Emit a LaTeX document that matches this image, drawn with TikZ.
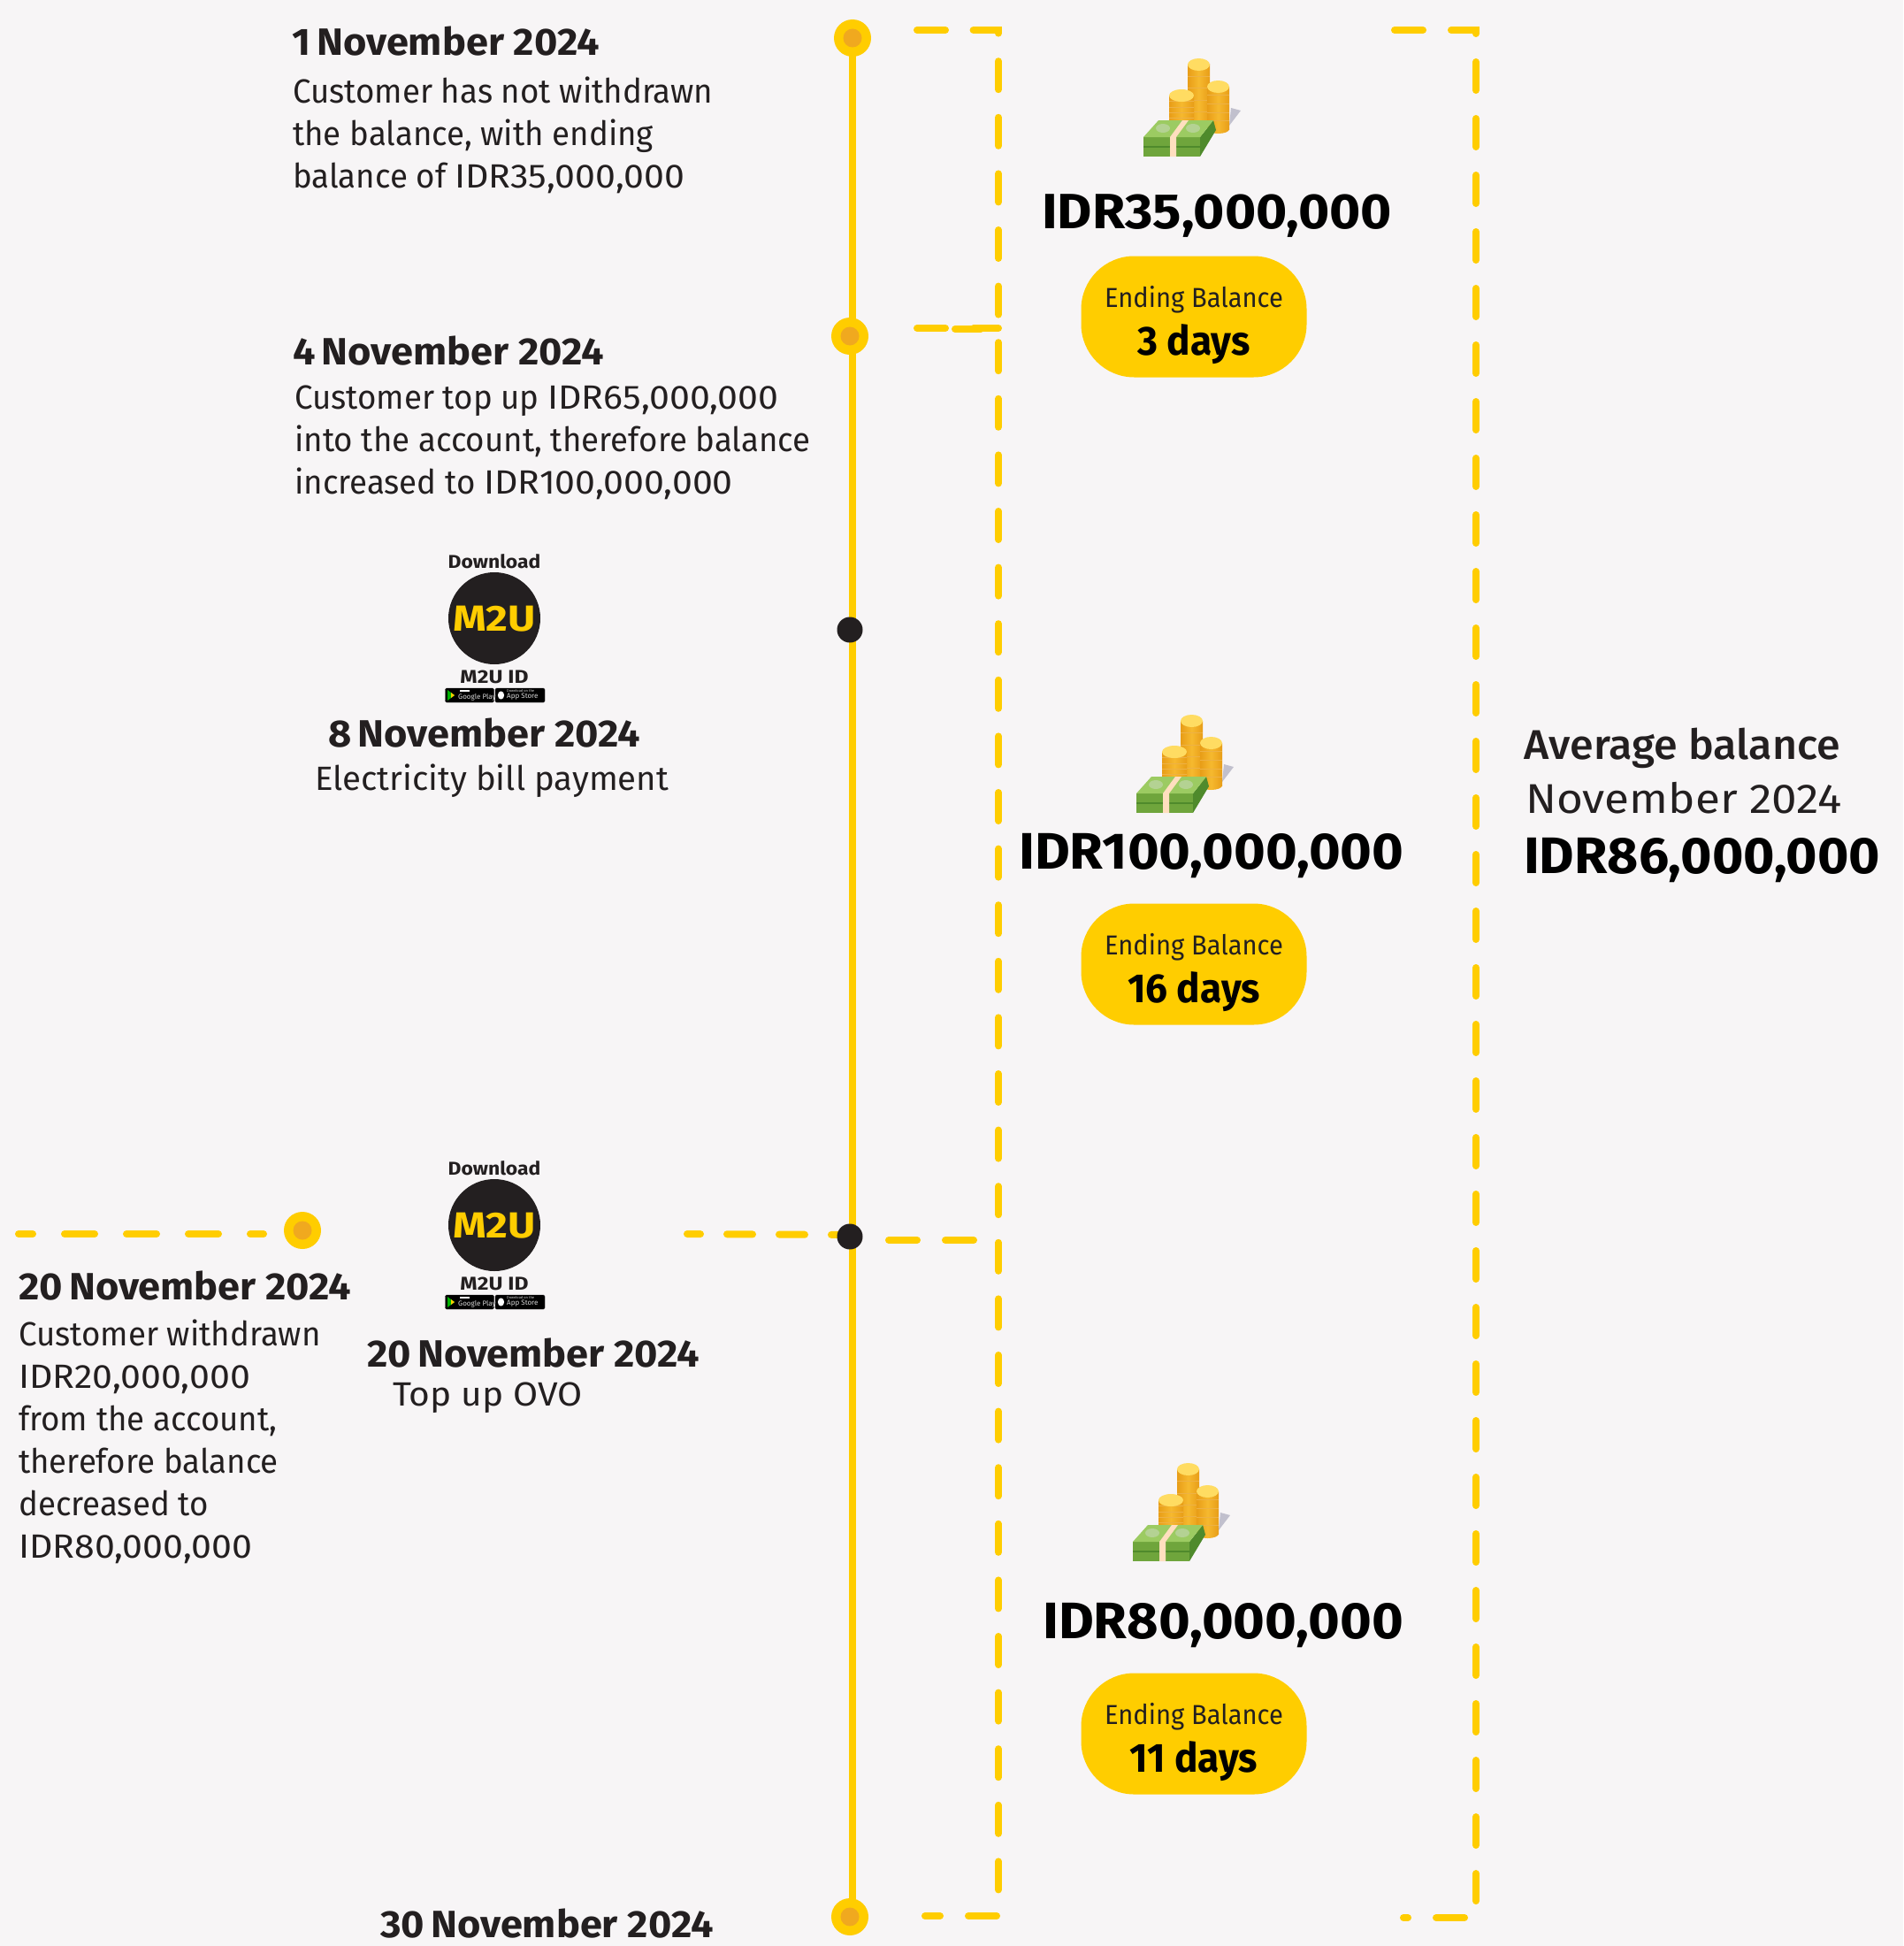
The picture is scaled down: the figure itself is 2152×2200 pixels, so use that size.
\documentclass[tikz,border=0pt]{standalone}
\usepackage{fontspec}
\setmainfont{Fira Sans}
\newfontfamily\bodyf[FakeStretch=0.965]{Fira Sans}
\newfontfamily\numf[FakeStretch=1.08]{Fira Sans}
\newfontfamily\elecf[FakeStretch=1.01]{Fira Sans}
\newfontfamily\ovof[FakeStretch=1.07]{Fira Sans}
\newfontfamily\datef[FakeStretch=1.05]{Fira Sans}
\newfontfamily\amtf[FakeStretch=1.077]{Fira Sans}
\newfontfamily\amtg[FakeStretch=1.055]{Fira Sans}
\newfontfamily\amth[FakeStretch=1.045]{Fira Sans}
\newfontfamily\pillf[FakeStretch=0.94]{Fira Sans}
\newfontfamily\dayf[FakeStretch=0.96]{Fira Sans}
\newfontfamily\avgf[FakeStretch=1.03]{Fira Sans Medium}
\newfontfamily\novf[FakeStretch=1.09]{Fira Sans}
\newfontfamily\logof[FakeStretch=1.17]{Fira Sans}
\newfontfamily\dlf[FakeStretch=1.09]{Fira Sans}
\newfontfamily\idf[FakeStretch=1.17]{Fira Sans}
\newcommand{\nm}[1]{{\numf #1}}
\definecolor{bgc}{HTML}{F7F5F6}
\definecolor{yel}{HTML}{FFCD00}
\definecolor{org}{HTML}{F0A91F}
\definecolor{ink}{HTML}{231F20}
\definecolor{gr1}{HTML}{6FA53C}
\definecolor{gr2}{HTML}{4F8A2C}
\definecolor{gr3}{HTML}{9CCB62}
\definecolor{co1}{HTML}{F6B92F}
\definecolor{co2}{HTML}{FFDC62}
\definecolor{co3}{HTML}{E89D17}
\tikzset{
 dashy/.style={yel,line width=8pt,line cap=round,dash pattern=on 32pt off 32pt},
 spine/.style={yel,line width=8pt},
 bigdot/.style={circle,fill=yel,minimum size=42pt,inner sep=0pt},
 innerdot/.style={circle,fill=org,minimum size=21pt,inner sep=0pt},
 blackdot/.style={circle,fill=ink,minimum size=29pt,inner sep=0pt},
 datehead/.style={anchor=base west,text=ink,font=\fontsize{43}{43}\datef\bfseries,inner sep=0pt},
 body/.style={anchor=base west,text=ink,font=\fontsize{38}{48}\bodyf,align=left,inner sep=0pt},
 amount/.style={anchor=base west,text=black,font=\fontsize{56}{56}\amtf\bfseries,inner sep=0pt},
 amountb/.style={anchor=base west,text=black,font=\fontsize{58}{58}\amtg\bfseries,inner sep=0pt},
 amountc/.style={anchor=base west,text=black,font=\fontsize{58}{58}\amth\bfseries,inner sep=0pt},
 pill/.style={fill=yel,rounded corners=60pt,minimum width=255pt,minimum height=137pt,inner sep=0pt},
 pilltop/.style={text=ink,font=\fontsize{31}{31}\pillf,inner sep=0pt},
 pillbot/.style={text=black,font=\fontsize{46}{46}\dayf\bfseries,inner sep=0pt},
 logocircle/.style={circle,fill=ink,minimum size=104pt,inner sep=0pt},
 logotext/.style={text=yel,font=\fontsize{41}{41}\logof\bfseries,inner sep=0pt},
 dltext/.style={text=ink,font=\fontsize{21}{21}\dlf\bfseries,inner sep=0pt},
 idtext/.style={text=ink,font=\fontsize{21}{21}\idf\bfseries,inner sep=0pt},
 badge/.style={fill=black,draw=ink,rounded corners=1.5pt,minimum height=16pt,inner sep=0pt},
 badgetext/.style={text=white!85!black,font=\fontsize{8}{8}\selectfont,inner sep=0pt},
 badgetiny/.style={text=white!85!black,font=\fontsize{4}{4}\selectfont,inner sep=0pt},
}
\newcommand{\coinstack}[4]{% x, top y, width, bottom y
 \path[left color=co3,right color=co3,middle color=co1] (#1,#2) rectangle (#1+#3,#4);
 \path[left color=co3,right color=co3,middle color=co1] (#1+#3/2,#4) ellipse ({#3/2} and 5);
 \foreach \q in {0.2,0.4,0.6,0.8}{\draw[co3!80!white,line width=.6pt] (#1,{#2+(#4-#2)*\q}) -- (#1+#3,{#2+(#4-#2)*\q});}
 \fill[co2] (#1+#3/2,#2) ellipse ({#3/2} and 7);
}
\newcommand{\moneyicon}[2]{%
 \begin{scope}[shift={(#1,#2)}]
  \fill[black!25!blue!8!bgc!85!black] (111,72) -- (122,75) -- (109,92) -- cycle;
  \coinstack{62}{23}{25}{90}
  \coinstack{84}{48}{25}{96}
  \coinstack{41}{58}{28}{90}
  \fill[gr2] (76,105) -- (91,86) -- (94,97) -- (76,127) -- cycle;
  \fill[gr1] (12,105) -- (76,105) -- (76,127) -- (12,127) -- cycle;
  \fill[gr3] (12,105) -- (29,86) -- (91,86) -- (76,105) -- cycle;
  \fill[gr1!60!gr3!60!white] (34,95) ellipse (8 and 5);
  \fill[gr1!60!gr3!60!white] (68,95) ellipse (8 and 5);
  \draw[gr2,line width=1.2pt] (12,116) -- (76,116);
  \fill[white!75!orange] (42,105) -- (56,86) -- (63,86) -- (49,105) -- (49,127) -- (42,127) -- cycle;
 \end{scope}}
\newcommand{\logoblock}[3]{% name, cx, cy of circle
 \node[logocircle] (#1c) at (#2,#3) {};
 \node[logotext] (#1t) at (#2,#3+1) {M2U};
 \node[dltext] (#1d) at (#2,#3-64) {Download};
 \node[idtext] (#1i) at (#2,#3+66) {M2U ID};
 \node[badge,minimum width=55pt] (#1g) at (#2-28,#3+87) {};
 \node[badge,minimum width=56pt] (#1a) at (#2+29,#3+87) {};
 \fill[green!70!black] (#2-53,#3+81) -- (#2-45,#3+87) -- (#2-53,#3+93) -- cycle;
 \fill[yel] (#2-49,#3+84) -- (#2-45,#3+87) -- (#2-49,#3+90) -- cycle;
 \fill[white] (#2-39,#3+80.5) rectangle (#2-28,#3+82.5);
 \node[badgetext,anchor=west] (#1gt) at (#2-41,#3+89) {Google Play};
 \fill[white] (#2+7.5,#3+87) ellipse (3.6 and 4.6);
 \node[badgetiny,anchor=west] (#1at0) at (#2+14,#3+82.5) {Download on the};
 \node[badgetext,anchor=west] (#1at) at (#2+14,#3+89) {App Store};
}
\begin{document}
\begin{tikzpicture}[x=1pt,y=-1pt]
\fill[bgc] (0,0) rectangle (2152,2200);
\useasboundingbox (0,0) rectangle (2152,2200);

% timeline
\coordinate (topL) at (964,43);
\coordinate (botL) at (964,2167);
\draw[spine] (topL) -- (botL);
\node[bigdot] (t1) at (964,43) {};
\node[innerdot] (t1i) at (t1) {};
\node[bigdot] (t4) at (961,380) {};
\node[innerdot] (t4i) at (t4) {};
\node[blackdot] (t8) at (961,712) {};
\node[bigdot] (t30) at (961,2167) {};
\node[innerdot] (t30i) at (t30) {};

% bracket 1
\coordinate (b1a) at (1037,34);
\coordinate (b1b) at (1129,34);
\coordinate (b1c) at (1129,2141);
\coordinate (b1e) at (1127,2166);
\coordinate (b1d) at (1046,2166);
\draw[dashy,dash pattern=on 32pt off 31.6pt] (b1a) -- (b1b) -- (b1c);
\draw[dashy] (b1e) -- (b1d);
\coordinate (m1a) at (1037,371);
\coordinate (m1b) at (1129,371);
\coordinate (m1c) at (1080,372);
\coordinate (m1d) at (1109,372);
\draw[dashy] (m1a) -- (m1b);
\draw[dashy] (m1c) -- (m1d);
\coordinate (m2a) at (1005,1402);
\coordinate (m2b) at (1101,1402);
\draw[dashy] (m2a) -- (m2b);

% bracket 2
\coordinate (b2a) at (1577,34);
\coordinate (b2b) at (1669,34);
\coordinate (b2c) at (1669,2149);
\coordinate (b2e) at (1656,2168);
\coordinate (b2d) at (1587,2168);
\draw[dashy] (b2a) -- (b2b) -- (b2c);
\draw[dashy] (b2e) -- (b2d);

% withdraw line
\node[bigdot] (w) at (342,1391) {};
\node[innerdot] (wi) at (w) {};
\coordinate (wa) at (21,1395);
\coordinate (wb) at (298,1395);
\draw[dashy,dash pattern=on 34pt off 36pt,dash phase=18pt] (wa) -- (wb);
\coordinate (ta) at (777,1395);
\coordinate (tb) at (961,1396);
\draw[dashy,dash pattern=on 29pt off 30pt,dash phase=14pt] (ta) -- (tb);
\node[blackdot] (t20) at (961,1398) {};

% left texts
\node[datehead] (d1) at (330,63) {1\,November 2024};
\node[body] (b1) at (331,212) {Customer has not withdrawn\\the balance, with ending\\balance of \nm{IDR35,000,000}};
\node[datehead] (d4) at (331,412) {4\,November 2024};
\node[body] (b4) at (333,558) {Customer top up \nm{IDR65,000,000}\\into the account, therefore balance\\increased to \nm{IDR100,000,000}};
\logoblock{la}{559}{699}
\node[datehead] (d8) at (371,844) {8\,November 2024};
\node[body,font=\fontsize{38}{48}\elecf] (b8) at (356,893) {Electricity bill payment};
\logoblock{lb}{559}{1385}
\node[datehead] (d20b) at (415,1545) {20\,November 2024};
\node[body,font=\fontsize{38}{48}\ovof] (b20b) at (444,1589) {Top up OVO};
\node[datehead] (d20a) at (21,1469) {20\,November 2024};
\node[body] (b20a) at (21,1761) {Customer withdrawn\\\nm{IDR20,000,000}\\from the account,\\therefore balance\\decreased to\\\nm{IDR80,000,000}};
\node[datehead] (d30) at (430,2190) {30\,November 2024};

% right column
\moneyicon{1281}{50}
\node[amount] (a1) at (1178,258) {IDR35,000,000};
\node[pill] (p1) at (1350,358) {};
\node[pilltop] (p1a) at (1350,339) {Ending Balance};
\node[pillbot] (p1b) at (1350,389) {3 days};
\moneyicon{1273}{792}
\node[amountb] (a2) at (1152,982) {IDR100,000,000};
\node[pill] (p2) at (1350,1090) {};
\node[pilltop] (p2a) at (1350,1071) {Ending Balance};
\node[pillbot] (p2b) at (1350,1121) {16 days};
\moneyicon{1269}{1638}
\node[amountb] (a3) at (1179,1852) {IDR80,000,000};
\node[pill] (p3) at (1350,1960) {};
\node[pilltop] (p3a) at (1350,1941) {Ending Balance};
\node[pillbot] (p3b) at (1350,1991) {11 days};

% average
\node[anchor=base west,text=ink,font=\fontsize{47}{47}\avgf,inner sep=0pt] (av1) at (1723,858) {Average balance};
\node[anchor=base west,text=ink,font=\fontsize{47}{47}\novf,inner sep=0pt] (av2) at (1725,919) {November 2024};
\node[amountc] (av3) at (1723,987) {IDR86,000,000};
\end{tikzpicture}
\end{document}
